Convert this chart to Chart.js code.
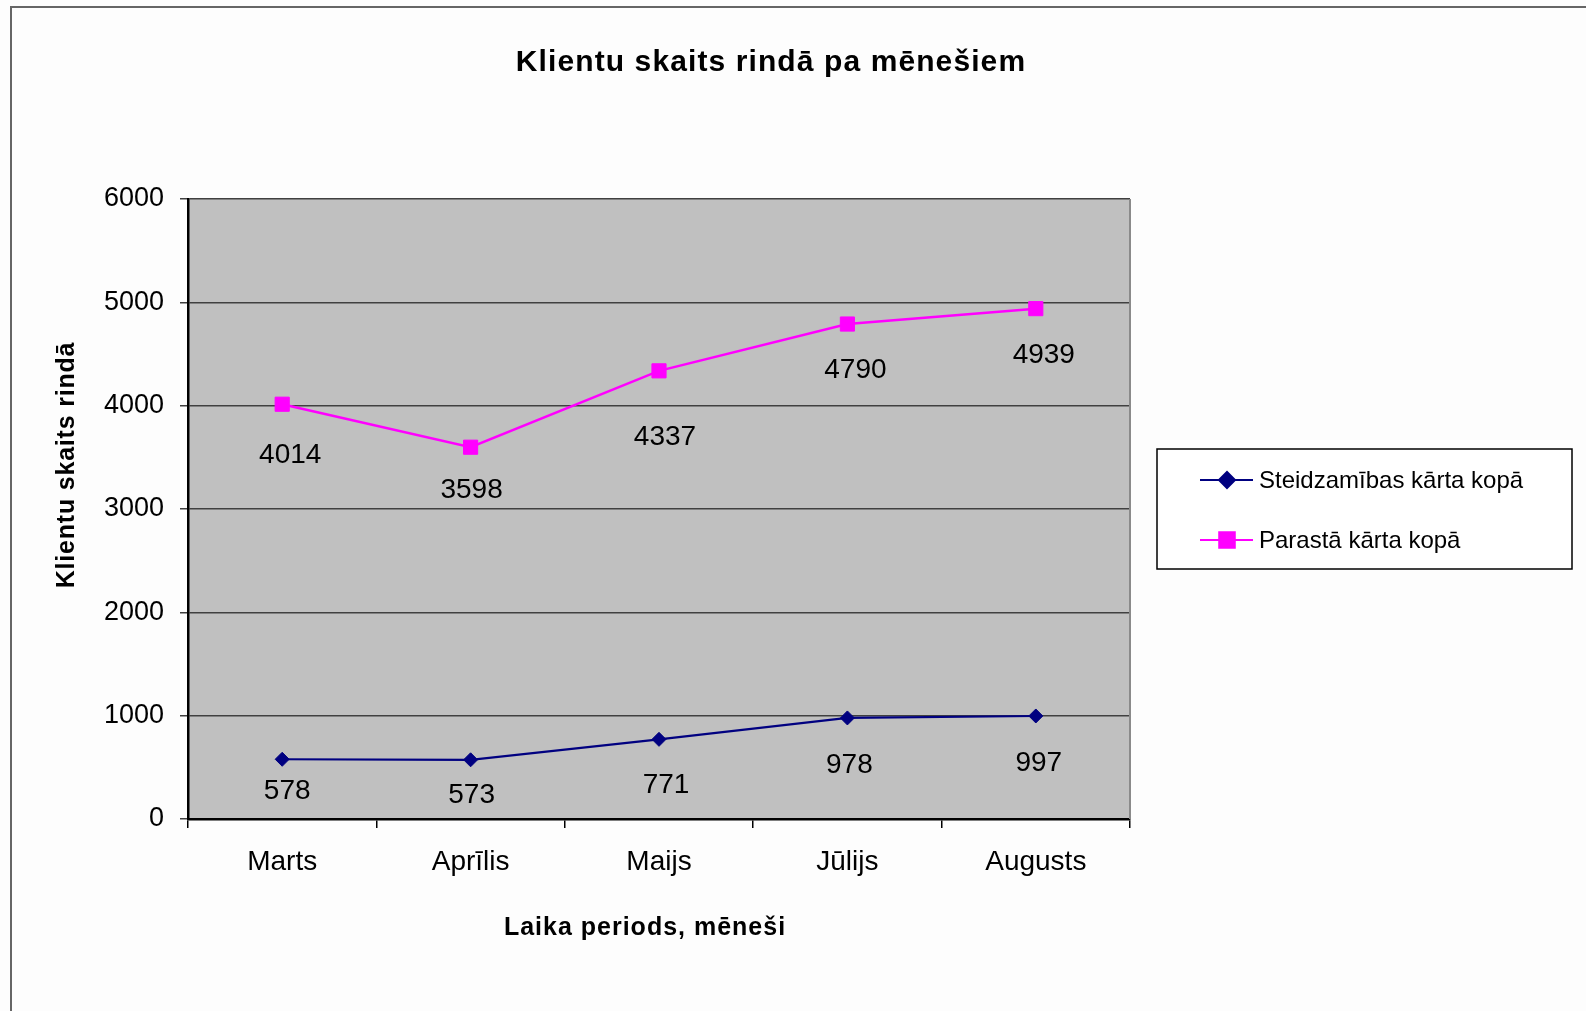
<!DOCTYPE html>
<html lang="lv">
<head>
<meta charset="utf-8">
<title>Klientu skaits rindā pa mēnešiem</title>
<script src="https://cdn.jsdelivr.net/npm/chart.js@4.4.1/dist/chart.umd.min.js"></script>
<style>
  html, body { margin: 0; padding: 0; background: #fdfdfd; }
  #grafiks { display: block; }
</style>
</head>
<body>
<canvas id="grafiks" width="1586" height="1011"></canvas>
<script>
// ============================= DATI =============================
const menesi = ['Marts', 'Aprīlis', 'Maijs', 'Jūlijs', 'Augusts']
const steidzamibas = [578, 573, 771, 978, 997]
const parasta = [4014, 3598, 4337, 4790, 4939]
const yMin = 0, yMax = 6000, ySolis = 1000

const virsraksts = 'Klientu skaits rindā pa mēnešiem'
const yNosaukums = 'Klientu skaits rindā'
const xNosaukums = 'Laika periods, mēneši'

// label offsets from the point (x, y), as Excel placed them
const steidzNobide = [[5, 32], [1, 35], [7, 46], [2, 47], [3, 47]]
const parastaNobide = [[8, 51], [1, 43], [6, 66], [8, 46], [8, 47]]

const fonts = '"Liberation Sans", Arial, sans-serif'

// ============================= FONS =============================
const fons = {
    id: 'fons',
    beforeDraw(chart){
        const {ctx, chartArea: a} = chart
        ctx.save()
        ctx.fillStyle = '#fdfdfd'
        ctx.fillRect(0, 0, chart.width, chart.height)
        // outer frame (only left and top are visible)
        ctx.strokeStyle = '#666666'
        ctx.lineWidth = 2
        ctx.beginPath()
        ctx.moveTo(11, chart.height)
        ctx.lineTo(11, 7)
        ctx.lineTo(chart.width, 7)
        ctx.stroke()
        ctx.fillStyle = '#c0c0c0'
        ctx.fillRect(a.left, a.top, a.right - a.left, a.bottom - a.top)
        ctx.restore()
    },
    beforeDatasetsDraw(chart){
        const {ctx, chartArea: a} = chart
        ctx.save()
        ctx.strokeStyle = '#8a8a8a'
        ctx.lineWidth = 2
        ctx.beginPath()
        ctx.moveTo(a.right, a.bottom)
        ctx.lineTo(a.right, a.top)
        ctx.stroke()
        ctx.restore()
    }
}

// ============================= VĒRTĪBU ETIĶETES =============================
const etiketes = {
    id: 'etiketes',
    afterDatasetsDraw(chart){
        const ctx = chart.ctx
        ctx.save()
        ctx.font = '28px ' + fonts
        ctx.fillStyle = '#000'
        ctx.textAlign = 'center'
        ctx.textBaseline = 'middle'
        chart.data.datasets.forEach((ds, i) =>{
            chart.getDatasetMeta(i).data.forEach((p, j) =>{
                const [dx, dy] = ds.nobide[j]
                ctx.fillText(ds.data[j], p.x + dx, p.y + dy)
            })
        })
        ctx.restore()
    }
}

// ============================= VIRSRAKSTI UN LEĢENDA =============================
const teksti = {
    id: 'teksti',
    afterDraw(chart){
        const ctx = chart.ctx
        ctx.save()
        ctx.fillStyle = '#000'
        ctx.textAlign = 'center'
        ctx.textBaseline = 'middle'

        ctx.font = 'bold 30px ' + fonts
        ctx.letterSpacing = '1.1px'
        ctx.fillText(virsraksts, 771, 63)

        ctx.font = 'bold 25px ' + fonts
        ctx.letterSpacing = '1px'
        ctx.fillText(xNosaukums, 645, 928)

        ctx.save()
        ctx.translate(67, 465)
        ctx.rotate(-Math.PI / 2)
        ctx.letterSpacing = '0.8px'
        ctx.fillText(yNosaukums, 0, 0)
        ctx.restore()
        ctx.letterSpacing = '0px'

        // legend
        ctx.fillStyle = '#fff'
        ctx.fillRect(1157, 449, 415, 120)
        ctx.strokeStyle = '#000'
        ctx.lineWidth = 1.5
        ctx.strokeRect(1157, 449, 415, 120)

        ctx.textAlign = 'left'
        ctx.font = '24px ' + fonts
        chart.data.datasets.forEach((ds, i) =>{
            const y = 480 + i * 60
            ctx.strokeStyle = ds.borderColor
            ctx.lineWidth = 2
            ctx.beginPath()
            ctx.moveTo(1200, y)
            ctx.lineTo(1253, y)
            ctx.stroke()
            Chart.helpers.drawPoint(ctx, {
                pointStyle: ds.pointStyle,
                radius: ds.pointRadius + 1,
                borderWidth: 1
            }, 1227, y)
            ctx.fillStyle = ds.pointBackgroundColor
            ctx.fill()
            ctx.fillStyle = '#000'
            ctx.fillText(ds.label, 1259, y + 1)
        })
        ctx.restore()
    }
}

// ============================= GRAFIKS =============================
const ctxGrafiks = document.getElementById('grafiks')

new Chart(ctxGrafiks, {
    type: 'line',
    data: {
        labels: menesi,
        datasets: [{
            label: 'Steidzamības kārta kopā',
            data: steidzamibas,
            nobide: steidzNobide,
            borderColor: '#000080',
            backgroundColor: '#000080',
            pointBackgroundColor: '#000080',
            pointBorderColor: '#000080',
            pointStyle: 'rectRot',
            pointRadius: 7,
            pointBorderWidth: 1,
            borderWidth: 2.2,
            tension: 0
        }, {
            label: 'Parastā kārta kopā',
            data: parasta,
            nobide: parastaNobide,
            borderColor: '#ff00ff',
            backgroundColor: '#ff00ff',
            pointBackgroundColor: '#ff00ff',
            pointBorderColor: '#ff00ff',
            pointStyle: 'rect',
            pointRadius: 10,
            pointBorderWidth: 1,
            borderWidth: 2.5,
            tension: 0
        }]
    },
    options: {
        responsive: false,
        devicePixelRatio: 1,
        animation: false,
        layout: {
            padding: { top: 199, right: 456, bottom: 0, left: 0 }
        },
        plugins: {
            legend: { display: false },
            title: { display: false },
            tooltip: { enabled: false }
        },
        scales: {
            x: {
                offset: true,
                afterFit: s => { s.height = 1011 - 819 },
                grid: {
                    display: true,
                    drawOnChartArea: false,
                    offset: true,
                    color: '#000',
                    lineWidth: 1.5,
                    tickLength: 9
                },
                border: { display: true, color: '#000', width: 2.5 },
                ticks: {
                    color: '#000',
                    padding: 17,
                    font: { family: fonts, size: 28 }
                }
            },
            y: {
                min: yMin,
                max: yMax,
                afterFit: s => { s.width = 188 },
                grid: {
                    color: '#404040',
                    lineWidth: 1.5,
                    tickLength: 8
                },
                border: { display: true, color: '#000', width: 2.5 },
                ticks: {
                    stepSize: ySolis,
                    color: '#000',
                    padding: 16,
                    font: { family: fonts, size: 27 },
                    callback: v => String(v)
                }
            }
        }
    },
    plugins: [fons, etiketes, teksti]
})
</script>
</body>
</html>
